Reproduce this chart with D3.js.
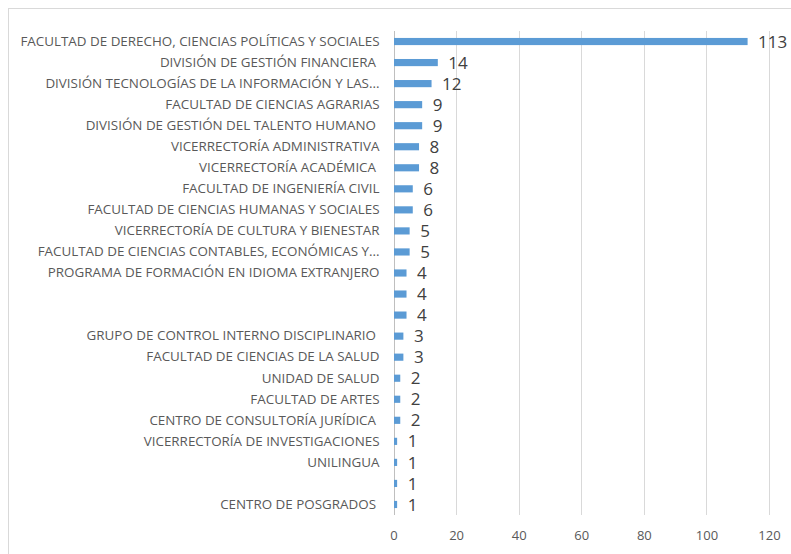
<!DOCTYPE html>
<html>
<head>
<meta charset="utf-8">
<script src="https://cdn.jsdelivr.net/npm/d3@7"></script>
<style>
  body { margin: 0; background: #fff; }
  svg { display: block; font-family: "Open Sans", sans-serif; }
</style>
</head>
<body>
<div id="chart"></div>
<script>
const width = 791;
const height = 554;

const categories = [
    "FACULTAD DE DERECHO, CIENCIAS POLÍTICAS Y SOCIALES",
    "DIVISIÓN DE GESTIÓN FINANCIERA ",
    "DIVISIÓN TECNOLOGÍAS DE LA INFORMACIÓN Y LAS...",
    "FACULTAD DE CIENCIAS AGRARIAS",
    "DIVISIÓN DE GESTIÓN DEL TALENTO HUMANO ",
    "VICERRECTORÍA ADMINISTRATIVA",
    "VICERRECTORÍA ACADÉMICA ",
    "FACULTAD DE INGENIERÍA CIVIL",
    "FACULTAD DE CIENCIAS HUMANAS Y SOCIALES",
    "VICERRECTORÍA DE CULTURA Y BIENESTAR",
    "FACULTAD DE CIENCIAS CONTABLES, ECONÓMICAS Y...",
    "PROGRAMA DE FORMACIÓN EN IDIOMA EXTRANJERO",
    "",
    "",
    "GRUPO DE CONTROL INTERNO DISCIPLINARIO ",
    "FACULTAD DE CIENCIAS DE LA SALUD",
    "UNIDAD DE SALUD",
    "FACULTAD DE ARTES",
    "CENTRO DE CONSULTORÍA JURÍDICA ",
    "VICERRECTORÍA DE INVESTIGACIONES",
    "UNILINGUA",
    "",
    "CENTRO DE POSGRADOS "
];
const values = [113, 14, 12, 9, 9, 8, 8, 6, 6, 5, 5, 4, 4, 4, 3, 3, 2, 2, 2, 1, 1, 1, 1];
const xTicks = [0, 20, 40, 60, 80, 100, 120];

const margin = {top: 31, right: 22, bottom: 39, left: 393.5};

const svg = d3.select('#chart')
    .append('svg')
    .attr('width', width)
    .attr('height', height);

// chart frame
svg.append('rect')
    .attr('x', 8.5)
    .attr('y', 8.5)
    .attr('width', width + 10)
    .attr('height', height + 10)
    .attr('fill', 'none')
    .attr('stroke', '#d9d9d9');

const x = d3.scaleLinear()
    .domain([0, 120])
    .range([margin.left, width - margin.right]);

const y = d3.scaleBand()
    .domain(d3.range(categories.length))
    .range([margin.top, height - margin.bottom])
    .paddingInner(0.66)
    .paddingOuter(0.33);

// gridlines
svg.append('g')
    .selectAll('line')
    .data(xTicks)
    .join('line')
    .attr('x1', d => Math.round(x(d)) + 0.5)
    .attr('x2', d => Math.round(x(d)) + 0.5)
    .attr('y1', margin.top)
    .attr('y2', height - margin.bottom)
    .attr('stroke', d => d === 0 ? '#bfbfbf' : '#d9d9d9')
    .attr('stroke-width', 1);

// x axis labels
const xAxis = svg.append('g')
    .attr('transform', `translate(0,${height - margin.bottom})`)
    .call(d3.axisBottom(x).tickValues(xTicks).tickSize(0).tickPadding(16));
xAxis.select('.domain').remove();
xAxis.selectAll('text')
    .attr('fill', '#595959')
    .style('font-size', '13px')
    .style('font-family', '"Open Sans", sans-serif');

// category labels
const yAxis = svg.append('g')
    .attr('transform', `translate(${margin.left},0)`)
    .call(d3.axisLeft(y).tickFormat(i => categories[i]).tickSize(0).tickPadding(14));
yAxis.select('.domain').remove();
yAxis.selectAll('text')
    .attr('fill', '#595959')
    .style('font-size', '13.4px')
    .style('white-space', 'pre')
    .style('font-family', '"Open Sans", sans-serif');

// bars
svg.append('g')
    .selectAll('rect')
    .data(values)
    .join('rect')
    .attr('x', x(0) + 0.5)
    .attr('y', (d, i) => y(i))
    .attr('width', d => x(d) - x(0))
    .attr('height', y.bandwidth())
    .attr('fill', '#5b9bd5');

// value labels
svg.append('g')
    .selectAll('text')
    .data(values)
    .join('text')
    .attr('x', d => x(d) + 11)
    .attr('y', (d, i) => y(i) + y.bandwidth() / 2)
    .attr('dy', '0.36em')
    .attr('fill', '#404040')
    .style('font-size', '17px')
    .text(d => d);
</script>
</body>
</html>
